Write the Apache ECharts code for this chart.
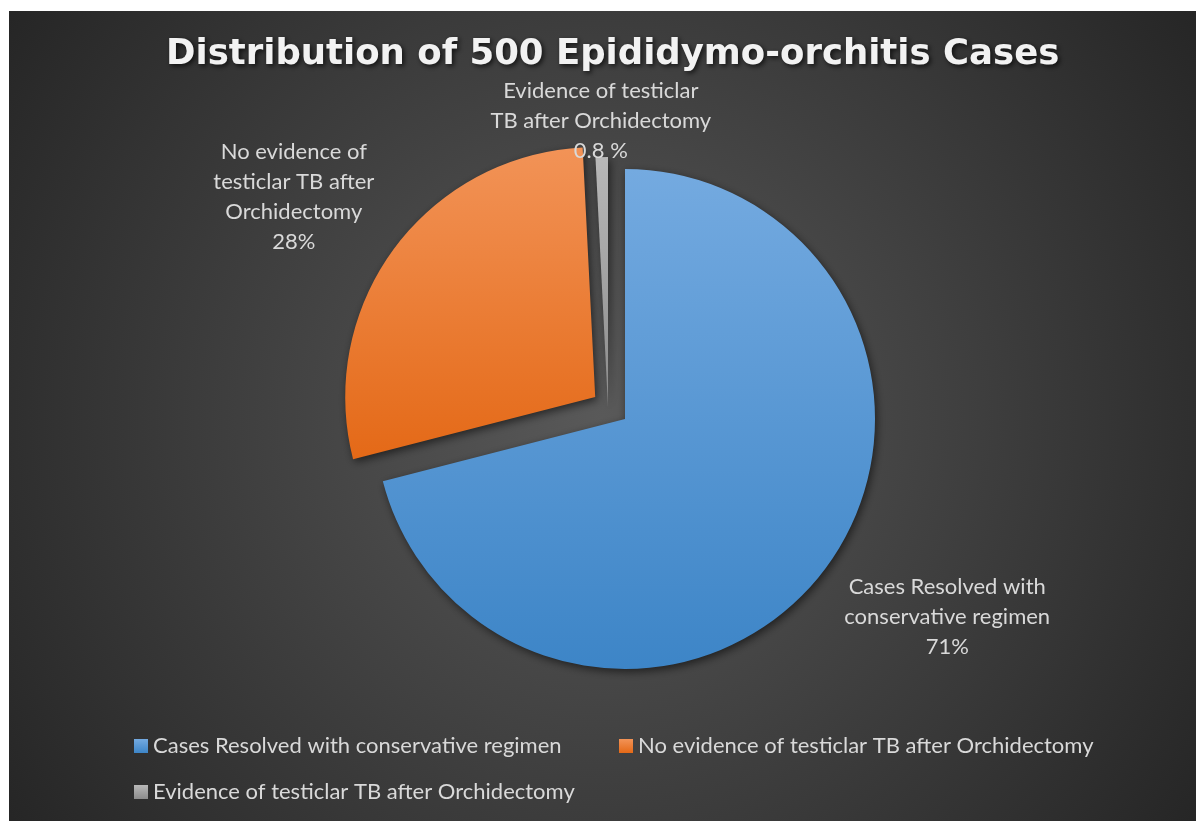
<!DOCTYPE html>
<html>
<head>
<meta charset="utf-8">
<title>Distribution of 500 Epididymo-orchitis Cases</title>
<script src="https://cdn.jsdelivr.net/npm/echarts@6/dist/echarts.min.js"></script>
<style>
html, body { margin: 0; padding: 0; background: #fff; }
#chart { position: absolute; left: 9px; top: 11px; width: 1187px; height: 810px; }
</style>
</head>
<body>
<div id="chart"></div>
<script>
// data
const categories = [
    'Cases Resolved with conservative regimen',
    'No evidence of testiclar TB after Orchidectomy',
    'Evidence of testiclar TB after Orchidectomy'
];
const caseCounts = [355, 141, 4];
const pctLabels = ['71%', '28%', '0.8 %'];
const labelText = [
    ['Cases Resolved with', 'conservative regimen'],
    ['No evidence of', 'testiclar TB after', 'Orchidectomy'],
    ['Evidence of testiclar', 'TB after Orchidectomy']
];

const FONT = 'Lato, "Open Sans", sans-serif';
const grad = (top, bottom) => new echarts.graphic.LinearGradient(0, 0, 0, 1, [
    { offset: 0, color: top }, { offset: 1, color: bottom }
]);
const sliceColors = [grad('#74aae0', '#3d85c7'), grad('#f29357', '#e46917'), grad('#b8b8b8', '#8c8c8c')];

const labelFormatter = p => labelText[p.dataIndex].concat(pctLabels[p.dataIndex]).join('\n');
const shadow = { shadowColor: 'rgba(0,0,0,0.55)', shadowBlur: 8, shadowOffsetX: 2, shadowOffsetY: 3 };
const hidden = { itemStyle: { color: 'transparent', shadowBlur: 0, shadowColor: 'transparent' }, label: { show: false } };

const baseSeries = {
    type: 'pie',
    radius: 250,
    startAngle: 90,
    clockwise: true,
    animation: false,
    avoidLabelOverlap: false,
    emphasis: { disabled: true },
    label: {
        show: true, position: 'outside', color: '#d9d9d9',
        fontFamily: FONT, fontSize: 22, lineHeight: 30, formatter: labelFormatter
    },
    labelLine: { show: false },
    labelLayout: () => ({ align: 'center', verticalAlign: 'middle' })
};

const chart = echarts.init(document.getElementById('chart'));
chart.setOption({
    backgroundColor: {
        type: 'radial', x: 0.5, y: 0.5, r: 0.9,
        colorStops: [{ offset: 0, color: '#595959' }, { offset: 1, color: '#252525' }]
    },
    title: {
        text: 'Distribution of 500 Epididymo-orchitis Cases',
        left: 152, top: 21,
        textStyle: {
            color: '#f2f2f2', fontFamily: '"DejaVu Sans", "Open Sans", sans-serif', fontWeight: 'bold', fontSize: 35.5,
            textShadowColor: 'rgba(0,0,0,0.7)', textShadowBlur: 5, textShadowOffsetX: 2, textShadowOffsetY: 2
        }
    },
    legend: [0, 1, 2].map(i => ({
        data: [{ name: categories[i], itemStyle: { color: sliceColors[i] } }],
        left: [125, 610, 125][i], top: [723, 723, 769][i], padding: 0,
        icon: 'rect', itemWidth: 14, itemHeight: 14, selectedMode: false,
        textStyle: { color: '#d9d9d9', fontFamily: FONT, fontSize: 22, lineHeight: 24 }
    })),
    series: [
        Object.assign({}, baseSeries, {
            center: [616, 408],
            selectedMode: 'multiple',
            selectedOffset: 37,
            itemStyle: shadow,
            data: [
                { name: categories[0], value: caseCounts[0], itemStyle: { color: sliceColors[0] }, labelLine: { length: 73, length2: 62 } },
                { name: categories[1], value: caseCounts[1], itemStyle: { color: sliceColors[1] }, selected: true, labelLine: { length: 87, length2: 25 } },
                Object.assign({ name: categories[2], value: caseCounts[2] }, hidden)
            ]
        }),
        Object.assign({}, baseSeries, {
            center: [599, 396],
            itemStyle: shadow,
            data: [
                Object.assign({ name: categories[0], value: caseCounts[0] }, hidden),
                Object.assign({ name: categories[1], value: caseCounts[1] }, hidden),
                { name: categories[2], value: caseCounts[2], itemStyle: { color: sliceColors[2] },
                  label: { distanceToLabelLine: 0 }, labelLine: { length: 36, length2: 0 } }
            ]
        })
    ]
});
</script>
</body>
</html>
